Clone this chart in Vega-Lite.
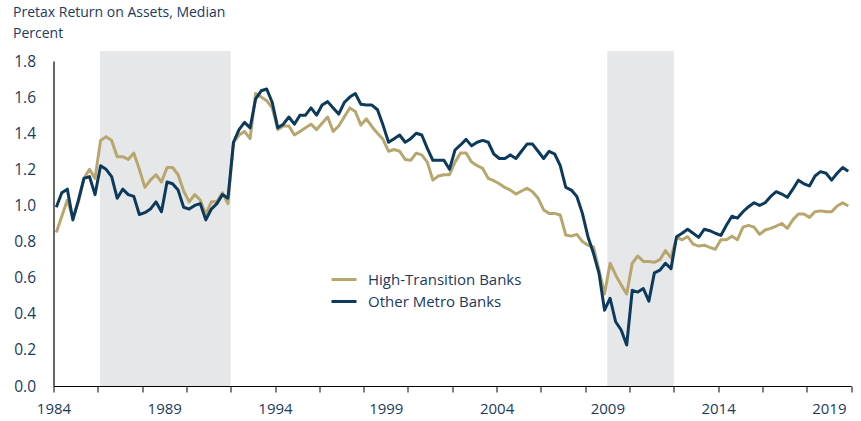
{
  "$schema": "https://vega.github.io/schema/vega-lite/v6.json",
  "width": 797.5,
  "height": 325,
  "autosize": {"type": "none"},
  "padding": {"left": 53.5, "top": 61, "right": 10, "bottom": 35},
  "background": "white",
  "config": {"view": {"stroke": null}, "font": "Open Sans", "axis": {"labelOverlap": false}},
  "title": {
    "text": ["Pretax Return on Assets, Median", "Percent"],
    "anchor": "start",
    "frame": "group",
    "orient": "top",
    "fontSize": 14,
    "fontWeight": "normal",
    "color": "#1b3a5c",
    "lineHeight": 21,
    "dx": -40.5,
    "dy": -2,
    "offset": 8
  },
  "datasets": {
    "shades": [
      {"start": 1986.1, "end": 1992.0},
      {"start": 2009.0, "end": 2012.0}
    ],
    "series": [
      {"t":1984.125,"High-Transition Banks":0.85,"Other Metro Banks":0.99},
      {"t":1984.375,"High-Transition Banks":0.94,"Other Metro Banks":1.07},
      {"t":1984.625,"High-Transition Banks":1.03,"Other Metro Banks":1.09},
      {"t":1984.875,"High-Transition Banks":0.93,"Other Metro Banks":0.92},
      {"t":1985.125,"High-Transition Banks":1.02,"Other Metro Banks":1.03},
      {"t":1985.375,"High-Transition Banks":1.15,"Other Metro Banks":1.15},
      {"t":1985.625,"High-Transition Banks":1.20,"Other Metro Banks":1.16},
      {"t":1985.875,"High-Transition Banks":1.15,"Other Metro Banks":1.06},
      {"t":1986.125,"High-Transition Banks":1.36,"Other Metro Banks":1.22},
      {"t":1986.375,"High-Transition Banks":1.38,"Other Metro Banks":1.20},
      {"t":1986.625,"High-Transition Banks":1.36,"Other Metro Banks":1.16},
      {"t":1986.875,"High-Transition Banks":1.27,"Other Metro Banks":1.04},
      {"t":1987.125,"High-Transition Banks":1.27,"Other Metro Banks":1.09},
      {"t":1987.375,"High-Transition Banks":1.255,"Other Metro Banks":1.06},
      {"t":1987.625,"High-Transition Banks":1.29,"Other Metro Banks":1.05},
      {"t":1987.875,"High-Transition Banks":1.20,"Other Metro Banks":0.95},
      {"t":1988.125,"High-Transition Banks":1.10,"Other Metro Banks":0.96},
      {"t":1988.375,"High-Transition Banks":1.14,"Other Metro Banks":0.98},
      {"t":1988.625,"High-Transition Banks":1.17,"Other Metro Banks":1.02},
      {"t":1988.875,"High-Transition Banks":1.13,"Other Metro Banks":0.965},
      {"t":1989.125,"High-Transition Banks":1.21,"Other Metro Banks":1.13},
      {"t":1989.375,"High-Transition Banks":1.21,"Other Metro Banks":1.12},
      {"t":1989.625,"High-Transition Banks":1.17,"Other Metro Banks":1.085},
      {"t":1989.875,"High-Transition Banks":1.08,"Other Metro Banks":0.99},
      {"t":1990.125,"High-Transition Banks":1.02,"Other Metro Banks":0.98},
      {"t":1990.375,"High-Transition Banks":1.06,"Other Metro Banks":1.00},
      {"t":1990.625,"High-Transition Banks":1.03,"Other Metro Banks":1.01},
      {"t":1990.875,"High-Transition Banks":0.95,"Other Metro Banks":0.92},
      {"t":1991.125,"High-Transition Banks":1.02,"Other Metro Banks":0.98},
      {"t":1991.375,"High-Transition Banks":1.02,"Other Metro Banks":1.01},
      {"t":1991.625,"High-Transition Banks":1.07,"Other Metro Banks":1.06},
      {"t":1991.875,"High-Transition Banks":1.01,"Other Metro Banks":1.04},
      {"t":1992.125,"High-Transition Banks":1.35,"Other Metro Banks":1.35},
      {"t":1992.375,"High-Transition Banks":1.39,"Other Metro Banks":1.42},
      {"t":1992.625,"High-Transition Banks":1.41,"Other Metro Banks":1.46},
      {"t":1992.875,"High-Transition Banks":1.37,"Other Metro Banks":1.43},
      {"t":1993.125,"High-Transition Banks":1.62,"Other Metro Banks":1.59},
      {"t":1993.375,"High-Transition Banks":1.60,"Other Metro Banks":1.635},
      {"t":1993.625,"High-Transition Banks":1.58,"Other Metro Banks":1.645},
      {"t":1993.875,"High-Transition Banks":1.54,"Other Metro Banks":1.57},
      {"t":1994.125,"High-Transition Banks":1.42,"Other Metro Banks":1.43},
      {"t":1994.375,"High-Transition Banks":1.44,"Other Metro Banks":1.45},
      {"t":1994.625,"High-Transition Banks":1.44,"Other Metro Banks":1.49},
      {"t":1994.875,"High-Transition Banks":1.39,"Other Metro Banks":1.45},
      {"t":1995.125,"High-Transition Banks":1.41,"Other Metro Banks":1.50},
      {"t":1995.375,"High-Transition Banks":1.43,"Other Metro Banks":1.50},
      {"t":1995.625,"High-Transition Banks":1.45,"Other Metro Banks":1.54},
      {"t":1995.875,"High-Transition Banks":1.42,"Other Metro Banks":1.50},
      {"t":1996.125,"High-Transition Banks":1.455,"Other Metro Banks":1.556},
      {"t":1996.375,"High-Transition Banks":1.49,"Other Metro Banks":1.575},
      {"t":1996.625,"High-Transition Banks":1.41,"Other Metro Banks":1.54},
      {"t":1996.875,"High-Transition Banks":1.44,"Other Metro Banks":1.506},
      {"t":1997.125,"High-Transition Banks":1.49,"Other Metro Banks":1.57},
      {"t":1997.375,"High-Transition Banks":1.54,"Other Metro Banks":1.60},
      {"t":1997.625,"High-Transition Banks":1.52,"Other Metro Banks":1.62},
      {"t":1997.875,"High-Transition Banks":1.445,"Other Metro Banks":1.56},
      {"t":1998.125,"High-Transition Banks":1.48,"Other Metro Banks":1.556},
      {"t":1998.375,"High-Transition Banks":1.436,"Other Metro Banks":1.556},
      {"t":1998.625,"High-Transition Banks":1.40,"Other Metro Banks":1.53},
      {"t":1998.875,"High-Transition Banks":1.366,"Other Metro Banks":1.445},
      {"t":1999.125,"High-Transition Banks":1.30,"Other Metro Banks":1.35},
      {"t":1999.375,"High-Transition Banks":1.31,"Other Metro Banks":1.37},
      {"t":1999.625,"High-Transition Banks":1.30,"Other Metro Banks":1.39},
      {"t":1999.875,"High-Transition Banks":1.255,"Other Metro Banks":1.35},
      {"t":2000.125,"High-Transition Banks":1.25,"Other Metro Banks":1.37},
      {"t":2000.375,"High-Transition Banks":1.29,"Other Metro Banks":1.40},
      {"t":2000.625,"High-Transition Banks":1.28,"Other Metro Banks":1.39},
      {"t":2000.875,"High-Transition Banks":1.24,"Other Metro Banks":1.316},
      {"t":2001.125,"High-Transition Banks":1.14,"Other Metro Banks":1.25},
      {"t":2001.375,"High-Transition Banks":1.163,"Other Metro Banks":1.25},
      {"t":2001.625,"High-Transition Banks":1.17,"Other Metro Banks":1.25},
      {"t":2001.875,"High-Transition Banks":1.17,"Other Metro Banks":1.20},
      {"t":2002.125,"High-Transition Banks":1.24,"Other Metro Banks":1.307},
      {"t":2002.375,"High-Transition Banks":1.29,"Other Metro Banks":1.335},
      {"t":2002.625,"High-Transition Banks":1.29,"Other Metro Banks":1.366},
      {"t":2002.875,"High-Transition Banks":1.24,"Other Metro Banks":1.33},
      {"t":2003.125,"High-Transition Banks":1.22,"Other Metro Banks":1.35},
      {"t":2003.375,"High-Transition Banks":1.205,"Other Metro Banks":1.36},
      {"t":2003.625,"High-Transition Banks":1.15,"Other Metro Banks":1.35},
      {"t":2003.875,"High-Transition Banks":1.137,"Other Metro Banks":1.285},
      {"t":2004.125,"High-Transition Banks":1.12,"Other Metro Banks":1.26},
      {"t":2004.375,"High-Transition Banks":1.10,"Other Metro Banks":1.26},
      {"t":2004.625,"High-Transition Banks":1.085,"Other Metro Banks":1.28},
      {"t":2004.875,"High-Transition Banks":1.063,"Other Metro Banks":1.26},
      {"t":2005.125,"High-Transition Banks":1.08,"Other Metro Banks":1.30},
      {"t":2005.375,"High-Transition Banks":1.095,"Other Metro Banks":1.34},
      {"t":2005.625,"High-Transition Banks":1.076,"Other Metro Banks":1.34},
      {"t":2005.875,"High-Transition Banks":1.04,"Other Metro Banks":1.30},
      {"t":2006.125,"High-Transition Banks":0.975,"Other Metro Banks":1.26},
      {"t":2006.375,"High-Transition Banks":0.956,"Other Metro Banks":1.30},
      {"t":2006.625,"High-Transition Banks":0.956,"Other Metro Banks":1.285},
      {"t":2006.875,"High-Transition Banks":0.947,"Other Metro Banks":1.22},
      {"t":2007.125,"High-Transition Banks":0.836,"Other Metro Banks":1.10},
      {"t":2007.375,"High-Transition Banks":0.83,"Other Metro Banks":1.085},
      {"t":2007.625,"High-Transition Banks":0.84,"Other Metro Banks":1.05},
      {"t":2007.875,"High-Transition Banks":0.80,"Other Metro Banks":0.956},
      {"t":2008.125,"High-Transition Banks":0.78,"Other Metro Banks":0.827},
      {"t":2008.375,"High-Transition Banks":0.77,"Other Metro Banks":0.735},
      {"t":2008.625,"High-Transition Banks":0.642,"Other Metro Banks":0.624},
      {"t":2008.875,"High-Transition Banks":0.51,"Other Metro Banks":0.42},
      {"t":2009.125,"High-Transition Banks":0.68,"Other Metro Banks":0.486},
      {"t":2009.375,"High-Transition Banks":0.615,"Other Metro Banks":0.356},
      {"t":2009.625,"High-Transition Banks":0.56,"Other Metro Banks":0.31},
      {"t":2009.875,"High-Transition Banks":0.51,"Other Metro Banks":0.227},
      {"t":2010.125,"High-Transition Banks":0.68,"Other Metro Banks":0.53},
      {"t":2010.375,"High-Transition Banks":0.72,"Other Metro Banks":0.52},
      {"t":2010.625,"High-Transition Banks":0.69,"Other Metro Banks":0.54},
      {"t":2010.875,"High-Transition Banks":0.69,"Other Metro Banks":0.47},
      {"t":2011.125,"High-Transition Banks":0.685,"Other Metro Banks":0.627},
      {"t":2011.375,"High-Transition Banks":0.70,"Other Metro Banks":0.642},
      {"t":2011.625,"High-Transition Banks":0.75,"Other Metro Banks":0.68},
      {"t":2011.875,"High-Transition Banks":0.71,"Other Metro Banks":0.65},
      {"t":2012.125,"High-Transition Banks":0.823,"Other Metro Banks":0.827},
      {"t":2012.375,"High-Transition Banks":0.81,"Other Metro Banks":0.846},
      {"t":2012.625,"High-Transition Banks":0.827,"Other Metro Banks":0.868},
      {"t":2012.875,"High-Transition Banks":0.786,"Other Metro Banks":0.846},
      {"t":2013.125,"High-Transition Banks":0.775,"Other Metro Banks":0.823},
      {"t":2013.375,"High-Transition Banks":0.78,"Other Metro Banks":0.868},
      {"t":2013.625,"High-Transition Banks":0.768,"Other Metro Banks":0.86},
      {"t":2013.875,"High-Transition Banks":0.757,"Other Metro Banks":0.846},
      {"t":2014.125,"High-Transition Banks":0.81,"Other Metro Banks":0.834},
      {"t":2014.375,"High-Transition Banks":0.81,"Other Metro Banks":0.89},
      {"t":2014.625,"High-Transition Banks":0.83,"Other Metro Banks":0.94},
      {"t":2014.875,"High-Transition Banks":0.81,"Other Metro Banks":0.93},
      {"t":2015.125,"High-Transition Banks":0.88,"Other Metro Banks":0.965},
      {"t":2015.375,"High-Transition Banks":0.89,"Other Metro Banks":0.993},
      {"t":2015.625,"High-Transition Banks":0.88,"Other Metro Banks":1.015},
      {"t":2015.875,"High-Transition Banks":0.84,"Other Metro Banks":1.00},
      {"t":2016.125,"High-Transition Banks":0.864,"Other Metro Banks":1.015},
      {"t":2016.375,"High-Transition Banks":0.873,"Other Metro Banks":1.05},
      {"t":2016.625,"High-Transition Banks":0.886,"Other Metro Banks":1.076},
      {"t":2016.875,"High-Transition Banks":0.90,"Other Metro Banks":1.063},
      {"t":2017.125,"High-Transition Banks":0.873,"Other Metro Banks":1.045},
      {"t":2017.375,"High-Transition Banks":0.92,"Other Metro Banks":1.09},
      {"t":2017.625,"High-Transition Banks":0.953,"Other Metro Banks":1.14},
      {"t":2017.875,"High-Transition Banks":0.953,"Other Metro Banks":1.12},
      {"t":2018.125,"High-Transition Banks":0.934,"Other Metro Banks":1.108},
      {"t":2018.375,"High-Transition Banks":0.965,"Other Metro Banks":1.163},
      {"t":2018.625,"High-Transition Banks":0.97,"Other Metro Banks":1.187},
      {"t":2018.875,"High-Transition Banks":0.965,"Other Metro Banks":1.178},
      {"t":2019.125,"High-Transition Banks":0.965,"Other Metro Banks":1.14},
      {"t":2019.375,"High-Transition Banks":0.997,"Other Metro Banks":1.178},
      {"t":2019.625,"High-Transition Banks":1.015,"Other Metro Banks":1.21},
      {"t":2019.875,"High-Transition Banks":0.997,"Other Metro Banks":1.19}
    ]
  },
  "layer": [
    {
      "data": {"name": "shades"},
      "mark": {"type": "rect", "color": "#e6e7e9"},
      "encoding": {
        "x": {
          "field": "start",
          "type": "quantitative",
          "scale": {"domain": [1984, 2020], "nice": false, "zero": false},
          "axis": {
            "orient": "bottom",
            "values": [1984,1986,1988,1990,1992,1994,1996,1998,2000,2002,2004,2006,2008,2010,2012,2014,2016,2018,2020],
            "labels": false,
            "ticks": true,
            "tickSize": 6,
            "tickColor": "#000000",
            "tickWidth": 1,
            "domain": true,
            "domainColor": "#000000",
            "domainWidth": 1.2,
            "grid": false,
            "title": null
          }
        },
        "x2": {"field": "end"},
        "y": {
          "datum": 0,
          "type": "quantitative",
          "scale": {"domain": [0, 1.8], "nice": false, "zero": true},
          "axis": {
            "values": [0,0.2,0.4,0.6,0.8,1.0,1.2,1.4,1.6,1.8],
            "format": ".1f",
            "ticks": false,
            "domain": true,
            "domainColor": "#000000",
            "domainWidth": 1.2,
            "grid": false,
            "title": null,
            "labelFontSize": 15.5,
            "labelColor": "#1b3a5c",
            "labelPadding": 18,
            "labelOverlap": false
          }
        },
        "y2": {"datum": 1.855}
      }
    },
    {
      "data": {"name": "series"},
      "transform": [
        {"fold": ["High-Transition Banks", "Other Metro Banks"], "as": ["series", "value"]}
      ],
      "mark": {"type": "line", "strokeWidth": 3, "strokeJoin": "round"},
      "encoding": {
        "x": {
          "field": "t",
          "type": "quantitative",
          "scale": {"domain": [1984, 2020], "nice": false, "zero": false},
          "axis": {
            "orient": "bottom",
            "values": [1984,1989,1994,1999,2004,2009,2014,2019],
            "format": "d",
            "ticks": false,
            "tickSize": 0,
            "domain": false,
            "grid": false,
            "title": null,
            "labelFontSize": 15,
            "labelColor": "#1b3a5c",
            "labelPadding": 15,
            "labelFlush": false,
            "labelOverlap": false
          }
        },
        "y": {
          "field": "value",
          "type": "quantitative",
          "scale": {"domain": [0, 1.8], "nice": false, "zero": true},
          "axis": {
            "values": [0,0.2,0.4,0.6,0.8,1.0,1.2,1.4,1.6,1.8],
            "format": ".1f",
            "ticks": false,
            "domain": true,
            "domainColor": "#000000",
            "domainWidth": 1.2,
            "grid": false,
            "title": null,
            "labelFontSize": 15.5,
            "labelColor": "#1b3a5c",
            "labelPadding": 18,
            "labelOverlap": false
          }
        },
        "color": {
          "field": "series",
          "type": "nominal",
          "scale": {"domain": ["High-Transition Banks", "Other Metro Banks"], "range": ["#b8a66f", "#0c3a5c"]},
          "legend": {
            "title": null,
            "orient": "none",
            "legendX": 276.5,
            "legendY": 204.5,
            "padding": 0,
            "symbolType": "stroke",
            "symbolSize": 625,
            "symbolStrokeWidth": 3,
            "labelFontSize": 15,
            "labelColor": "#1b3a5c",
            "labelOffset": 10,
            "rowPadding": 0
          }
        }
      }
    }
  ],
  "resolve": {"axis": {"x": "independent"}}
}
